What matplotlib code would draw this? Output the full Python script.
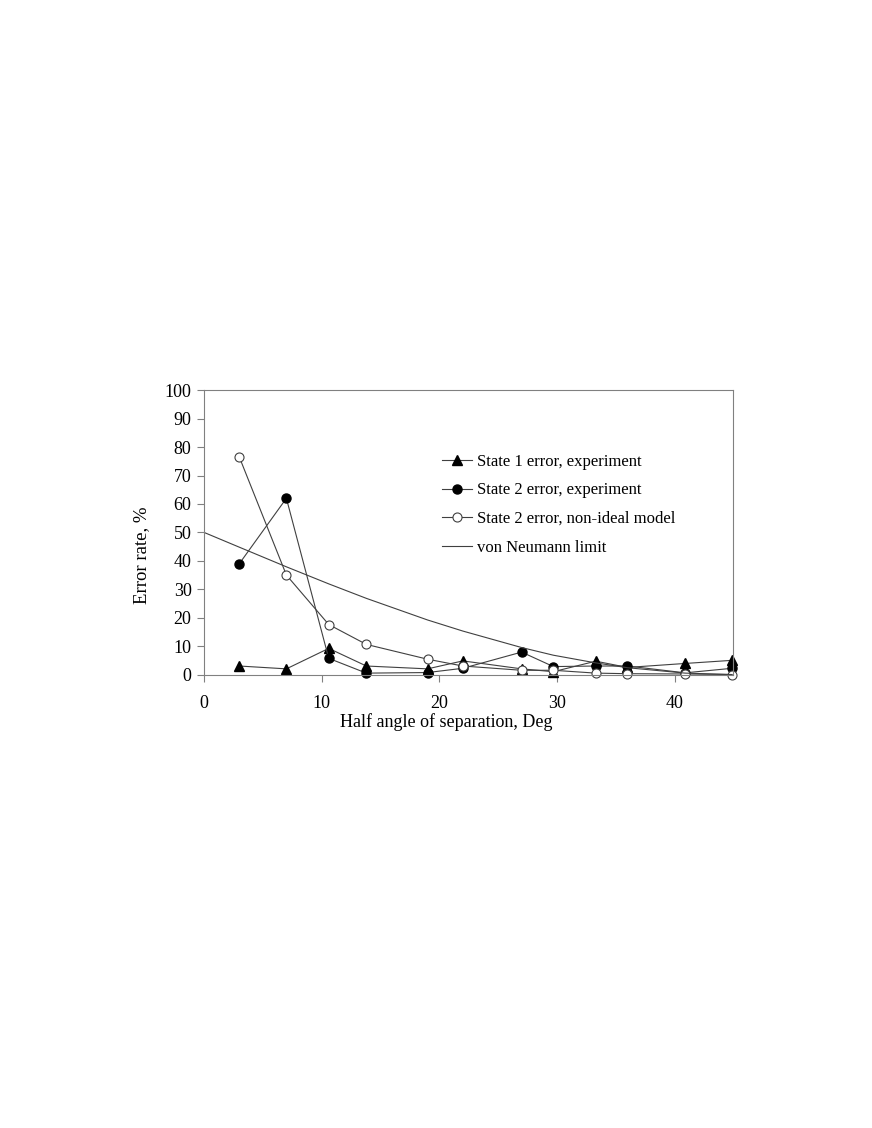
import matplotlib
matplotlib.use("Agg")
import matplotlib.pyplot as plt

plt.rcParams["font.family"] = ["Liberation Serif", "DejaVu Serif"]

angle = [3, 7, 10.6, 13.8, 19, 22, 27, 29.7, 33.3, 36, 40.9, 44.9]
state1_exp = [3.0, 2.0, 9.2, 3.0, 2.0, 4.8, 2.0, 1.0, 4.7, 2.5, 3.9, 5.0]
state2_exp = [39.0, 62.0, 5.7, 0.5, 0.7, 2.2, 7.9, 2.8, 3.0, 3.0, 0.6, 2.2]
state2_model = [76.5, 35.0, 17.6, 10.6, 5.4, 3.0, 1.5, 1.5, 0.5, 0.3, 0.2, 0.0]

vn_angle = [0, 3, 7, 10.6, 13.8, 19, 22, 27, 29.7, 33.3, 36, 40.9, 44.9]
vn_limit = [50.0, 44.8, 37.9, 31.9, 26.8, 19.2, 15.3, 9.5, 6.8, 4.1, 2.4, 0.5, 0.0]

fig = plt.figure(figsize=(8.72, 11.28), dpi=100)
ax = fig.add_axes([0.234, 0.402, 0.607, 0.252])

lc = "#404040"
ax.plot(angle, state1_exp, color=lc, lw=0.8, marker="^", ms=6.5, mfc="black", mec="black",
        clip_on=False, label="State 1 error, experiment")
ax.plot(angle, state2_exp, color=lc, lw=0.8, marker="o", ms=6.5, mfc="black", mec="black",
        clip_on=False, label="State 2 error, experiment")
ax.plot(angle, state2_model, color=lc, lw=0.8, marker="o", ms=6.5, mfc="white", mec="#404040",
        mew=0.8, clip_on=False, label="State 2 error, non-ideal model")
ax.plot(vn_angle, vn_limit, color=lc, lw=0.8, label="von Neumann limit")

ax.set_xlim(0, 45)
ax.set_ylim(0, 100)
ax.set_xticks([0, 10, 20, 30, 40])
ax.set_yticks(range(0, 101, 10))
ax.tick_params(axis="both", direction="out", length=5, width=0.8, color="#808080", labelsize=13)
ax.tick_params(axis="x", pad=10)
ax.tick_params(axis="y", pad=4)
for s in ax.spines.values():
    s.set_color("#808080")
    s.set_linewidth(0.8)

ax.set_xlabel("Half angle of separation, Deg", fontsize=13)
ax.set_ylabel("Error rate, %", fontsize=13.5)
ax.xaxis.set_label_coords(0.457, -0.135)
ax.yaxis.set_label_coords(-0.102, 0.42)

ax.legend(loc="upper left", bbox_to_anchor=(0.433, 0.806), frameon=False, fontsize=12,
          handlelength=1.8, handletextpad=0.3, labelspacing=0.76, borderpad=0)

fig.savefig("out.png", dpi=100)
